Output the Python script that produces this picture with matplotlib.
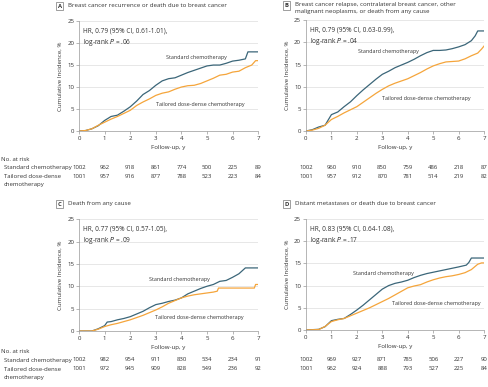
import numpy as np
import matplotlib
matplotlib.use("Agg")
import matplotlib.pyplot as plt

plt.rcParams["font.family"] = ["Open Sans", "DejaVu Sans"]

# ─── data (follow-up years, cumulative incidence %) ───
q = [0, 0.25, 0.5, 0.75, 1, 1.25, 1.5, 1.75, 2, 2.25, 2.5, 2.75, 3, 3.25, 3.5,
     3.75, 4, 4.25, 4.5, 4.75, 5, 5.25, 5.5, 5.75, 6, 6.25]

t_std_a = q + [6.5, 6.6, 7.0]
std_a = [0, 0.1, 0.5, 1.2, 2.4, 3.3, 3.6, 4.5, 5.5, 6.8, 8.3, 9.2, 10.4, 11.4, 11.9,
         12.1, 12.7, 13.3, 13.8, 14.3, 14.8, 15.0, 15.0, 15.4, 15.9, 16.1, 16.4, 18.0, 18.0]
t_tai_a = q + [6.5, 6.75, 6.9, 7.0]
tai_a = [0, 0.1, 0.5, 1.3, 2.0, 2.7, 3.3, 4.0, 4.7, 5.8, 6.6, 7.3, 8.1, 8.6, 8.9,
         9.5, 10.0, 10.3, 10.4, 10.8, 11.4, 12.0, 12.7, 12.9, 13.4, 13.6, 14.4, 15.0, 16.0, 16.0]

t_std_b = q + [6.5, 6.65, 6.75, 7.0]
std_b = [0, 0.3, 0.9, 1.3, 3.7, 4.3, 5.5, 6.6, 8.0, 9.3, 10.5, 11.7, 12.8, 13.5, 14.3,
         14.9, 15.5, 16.2, 17.0, 17.7, 18.2, 18.2, 18.3, 18.6, 19.0, 19.5, 20.4, 21.5, 22.6, 22.6]
t_tai_b = q + [6.5, 6.75, 6.9, 7.0]
tai_b = [0, 0.2, 0.6, 1.3, 2.6, 3.3, 4.1, 4.8, 5.5, 6.5, 7.5, 8.5, 9.4, 10.2, 10.8,
         11.3, 11.8, 12.5, 13.2, 14.0, 14.7, 15.2, 15.6, 15.7, 15.8, 16.3, 17.0, 17.6, 18.5, 19.2]

t_std_c = [0, 0.5, 0.75, 1.0, 1.1, 1.25, 1.5, 1.75, 2, 2.25, 2.5, 2.75, 3, 3.25, 3.5,
           3.75, 4, 4.25, 4.5, 4.75, 5, 5.25, 5.5, 5.75, 6, 6.25, 6.5, 7.0]
std_c = [0, 0, 0.5, 1.2, 2.0, 2.1, 2.5, 2.8, 3.2, 3.8, 4.4, 5.2, 5.9, 6.2, 6.6,
         6.9, 7.4, 8.3, 8.9, 9.5, 10.0, 10.4, 11.1, 11.3, 12.0, 12.8, 14.1, 14.1]
t_tai_c = [0, 0.5, 0.75, 1.0, 1.25, 1.5, 1.75, 2, 2.25, 2.5, 2.75, 3, 3.25, 3.5,
           3.75, 4, 4.25, 4.5, 4.75, 5, 5.25, 5.4, 5.45, 6.85, 6.9, 7.0]
tai_c = [0, 0, 0.4, 1.0, 1.4, 1.7, 2.1, 2.5, 3.0, 3.5, 4.1, 4.7, 5.4, 6.2,
         6.8, 7.4, 7.8, 8.1, 8.3, 8.5, 8.7, 8.9, 9.6, 9.6, 10.4, 10.4]

t_std_d = [0, 0.5, 0.75, 1, 1.25, 1.5, 1.75, 2, 2.25, 2.5, 2.75, 3, 3.25, 3.5,
           3.75, 4, 4.25, 4.5, 4.75, 5, 5.25, 5.5, 5.75, 6, 6.3, 6.4, 6.5, 7.0]
std_d = [0, 0.15, 0.75, 2.1, 2.4, 2.6, 3.5, 4.5, 5.6, 6.8, 8.0, 9.2, 10.0, 10.5,
         10.8, 11.2, 11.8, 12.3, 12.7, 13.0, 13.3, 13.6, 13.9, 14.2, 14.6, 15.2, 16.2, 16.2]
t_tai_d = [0, 0.5, 0.75, 1, 1.25, 1.5, 1.75, 2, 2.25, 2.5, 2.75, 3, 3.25, 3.5,
           3.75, 4, 4.25, 4.5, 4.75, 5, 5.25, 5.5, 5.75, 6, 6.25, 6.5, 6.75, 6.9, 7.0]
tai_d = [0, 0.1, 0.8, 1.9, 2.3, 2.6, 3.2, 3.8, 4.4, 5.0, 5.7, 6.4, 7.1, 7.9,
         8.7, 9.5, 9.9, 10.2, 10.8, 11.3, 11.7, 12.0, 12.2, 12.5, 12.9, 13.6, 14.8, 15.1, 15.1]

risk_years = [0, 1, 2, 3, 4, 5, 6, 7]
risk_std_a = [1002, 962, 918, 861, 774, 500, 225, 89]
risk_tai_a = [1001, 957, 916, 877, 788, 523, 223, 84]
risk_std_b = [1002, 960, 910, 850, 759, 486, 218, 87]
risk_tai_b = [1001, 957, 912, 870, 781, 514, 219, 82]
risk_std_c = [1002, 982, 954, 911, 830, 534, 234, 91]
risk_tai_c = [1001, 972, 945, 909, 828, 549, 236, 92]
risk_std_d = [1002, 969, 927, 871, 785, 506, 227, 90]
risk_tai_d = [1001, 962, 924, 888, 793, 527, 225, 84]

titles = ["Breast cancer recurrence or death due to breast cancer",
          "Breast cancer relapse, contralateral breast cancer, other\nmalignant neoplasms, or death from any cause",
          "Death from any cause",
          "Distant metastases or death due to breast cancer"]
hr_text = ["HR, 0.79 (95% CI, 0.61-1.01),", "HR, 0.79 (95% CI, 0.63-0.99),",
           "HR, 0.77 (95% CI, 0.57-1.05),", "HR, 0.83 (95% CI, 0.64-1.08),"]
p_text = [".06", ".04", ".09", ".17"]

STD = "#3b6679"
TAI = "#f5a53b"
TXT = "#333333"
FS = 4.4

panels = [
    ("A", [0.162, 0.6615, 0.367, 0.284], (t_std_a, std_a), (t_tai_a, tai_a), risk_std_a, risk_tai_a,
     (4.6, 16.8), (4.72, 6.1), 0.566),
    ("B", [0.627, 0.6615, 0.365, 0.286], (t_std_b, std_b), (t_tai_b, tai_b), risk_std_b, risk_tai_b,
     (3.25, 18.0), (4.72, 7.3), 0.566),
    ("C", [0.162, 0.1447, 0.367, 0.289], (t_std_c, std_c), (t_tai_c, tai_c), risk_std_c, risk_tai_c,
     (3.94, 11.5), (4.7, 3.0), 0.072),
    ("D", [0.627, 0.1473, 0.365, 0.287], (t_std_d, std_d), (t_tai_d, tai_d), risk_std_d, risk_tai_d,
     (3.05, 12.8), (5.14, 6.0), 0.072),
]

fig = plt.figure(figsize=(4.88, 3.87), dpi=100)

for i, (lab, pos, s, t, rs, rt, spos, tpos, risk_y) in enumerate(panels):
    ax = fig.add_axes(pos)
    ax.plot(*s, color=STD, lw=0.9)
    ax.plot(*t, color=TAI, lw=0.9)
    ax.set_xlim(0, 7)
    ax.set_ylim(0, 25)
    ax.set_xticks(range(8))
    ax.set_yticks(range(0, 26, 5))
    ax.grid(True, axis="y", color="#dddddd", lw=0.5)
    ax.set_axisbelow(True)
    for sp in ["top", "right"]:
        ax.spines[sp].set_visible(False)
    for sp in ["left", "bottom"]:
        ax.spines[sp].set_color("#999999")
        ax.spines[sp].set_linewidth(0.5)
    ax.tick_params(labelsize=FS, colors="#999999", labelcolor=TXT, length=2, width=0.5, pad=1.5)
    ax.set_xlabel("Follow-up, y", fontsize=FS, color=TXT, labelpad=3)
    ax.set_ylabel("Cumulative Incidence, %", fontsize=FS, color=TXT, labelpad=3)

    ax.text(0.15, 23.6, hr_text[i] + "\nlog-rank $P$ = " + p_text[i], fontsize=4.7,
            va="top", ha="left", color=TXT, linespacing=1.4)
    ax.text(*spos, "Standard chemotherapy", fontsize=3.9, ha="center", va="center", color=TXT)
    ax.text(*tpos, "Tailored dose-dense chemotherapy", fontsize=3.9, ha="center", va="center", color=TXT)

    # panel label and title
    x0 = pos[0] - 0.04
    y0 = pos[1] + pos[3] + 0.045
    fig.text(x0, y0, lab, fontsize=4.2, fontweight="bold", ha="center", va="top", color=TXT,
             bbox=dict(boxstyle="square,pad=0.3", fc="white", ec="#777777", lw=0.5))
    fig.text(x0 + 0.017, y0 + 0.002, titles[i], fontsize=FS, ha="left", va="top", color=TXT,
             linespacing=1.45)

    # numbers at risk, centered at tick positions
    for j, yr in enumerate(risk_years):
        xf = pos[0] + pos[2] * yr / 7
        fig.text(xf, risk_y, str(rs[j]), fontsize=4.3, ha="center", va="center", color=TXT)
        fig.text(xf, risk_y - 0.023, str(rt[j]), fontsize=4.3, ha="center", va="center", color=TXT)

# risk table row labels
for ry in [0.589, 0.0905]:
    fig.text(0.002, ry, "No. at risk", fontsize=4.3, ha="left", va="center", color=TXT)
    fig.text(0.008, ry - 0.023, "Standard chemotherapy", fontsize=4.3, ha="left", va="center", color=TXT)
    fig.text(0.008, ry - 0.046, "Tailored dose-dense", fontsize=4.3, ha="left", va="center", color=TXT)
    fig.text(0.008, ry - 0.067, "chemotherapy", fontsize=4.3, ha="left", va="center", color=TXT)

plt.savefig("out.png", dpi=100)
